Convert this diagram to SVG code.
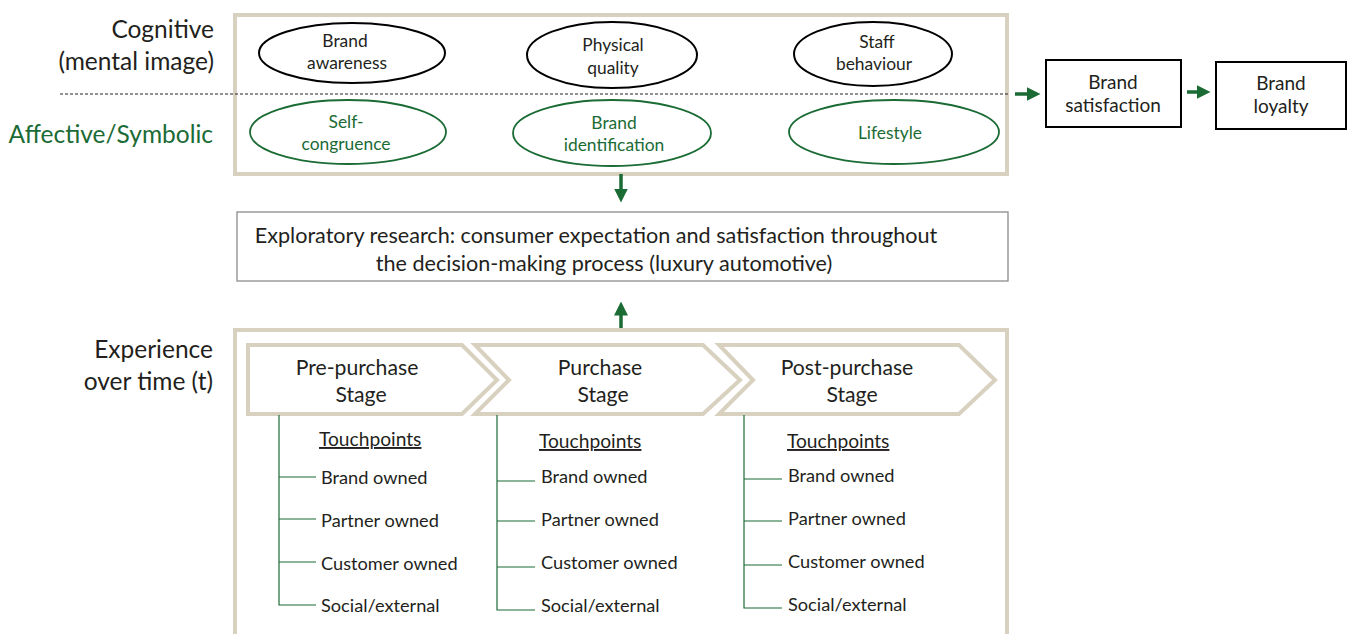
<svg xmlns="http://www.w3.org/2000/svg" width="1354" height="634" viewBox="0 0 1354 634">
<defs>
<style>
text{font-family:"Lato","Liberation Sans",sans-serif;fill:#231f20}
.g{fill:#1b6b35}
.frame{fill:none;stroke:#d9d1c0;stroke-width:4}
.ek{fill:#fff;stroke:#000;stroke-width:2}
.eg{fill:#fff;stroke:#1b6b35;stroke-width:1.8}
.et{font-size:17.4px;text-anchor:middle}
.lbl{font-size:24.5px;text-anchor:end}
.stage{fill:#fff;stroke:#d9d1c0;stroke-width:4}
.st{font-size:21.2px;text-anchor:middle}
.tp{font-size:19.2px;text-decoration:underline}
.it{font-size:18.2px}
.tl{fill:none;stroke:#1b6b35;stroke-width:1.2}
.arr{stroke:#1b6b35;stroke-width:3.5;fill:none}
.box{fill:#fff;stroke:#000;stroke-width:2}
.bt{font-size:19px;text-anchor:middle}
.rt{font-size:21.6px;text-anchor:middle}
</style>
<marker id="ah" markerWidth="4" markerHeight="4" refX="1" refY="2" orient="auto" markerUnits="strokeWidth">
<path d="M0,0 L4,2 L0,4 Z" fill="#1b6b35"/>
</marker>
</defs>

<g id="labels">
<text class="lbl" x="214" y="38">Cognitive</text>
<text class="lbl" x="214" y="70">(mental image)</text>
<text class="lbl g" x="213" y="143">Affective/Symbolic</text>
<text class="lbl" x="213" y="358">Experience</text>
<text class="lbl" x="213" y="390">over time (t)</text>
</g>

<g id="top-frame">
<rect class="frame" x="235" y="15" width="772" height="159"/>
</g>

<g id="connectors">
<line x1="60" y1="94" x2="1010" y2="94" stroke="#222" stroke-width="1" stroke-dasharray="3,2"/>
<line class="arr" x1="1015" y1="94" x2="1030" y2="94" marker-end="url(#ah)"/>
<line class="arr" x1="1187" y1="92" x2="1200" y2="92" marker-end="url(#ah)"/>
<line class="arr" x1="621" y1="174" x2="621" y2="192" marker-end="url(#ah)"/>
<line class="arr" x1="621" y1="330" x2="621" y2="312" marker-end="url(#ah)"/>
</g>

<g id="brand-awareness">
<ellipse class="ek" cx="352" cy="53" rx="93" ry="30"/>
<text class="et" x="345" y="47">Brand</text>
<text class="et" x="347" y="69">awareness</text>
</g>
<g id="physical-quality">
<ellipse class="ek" cx="612" cy="55" rx="85" ry="33"/>
<text class="et" x="613" y="51">Physical</text>
<text class="et" x="613" y="74">quality</text>
</g>
<g id="staff-behaviour">
<ellipse class="ek" cx="873" cy="54" rx="79" ry="32"/>
<text class="et" x="877" y="48">Staff</text>
<text class="et" x="874" y="70">behaviour</text>
</g>
<g id="self-congruence">
<ellipse class="eg" cx="348" cy="132" rx="98" ry="32"/>
<text class="et g" x="346" y="128">Self-</text>
<text class="et g" x="346" y="150">congruence</text>
</g>
<g id="brand-identification">
<ellipse class="eg" cx="612" cy="133" rx="99" ry="33"/>
<text class="et g" x="614" y="129">Brand</text>
<text class="et g" x="614" y="151">identification</text>
</g>
<g id="lifestyle">
<ellipse class="eg" cx="894" cy="132" rx="105" ry="32"/>
<text class="et g" x="890" y="139">Lifestyle</text>
</g>

<g id="brand-satisfaction">
<rect class="box" x="1046" y="60" width="135" height="67"/>
<text class="bt" x="1113" y="89">Brand</text>
<text class="bt" x="1113" y="112">satisfaction</text>
</g>
<g id="brand-loyalty">
<rect class="box" x="1216" y="62" width="130" height="67"/>
<text class="bt" x="1281" y="90">Brand</text>
<text class="bt" x="1281" y="113">loyalty</text>
</g>

<g id="research">
<rect x="237" y="212" width="771" height="69" fill="#fff" stroke="#8c8c8c" stroke-width="1.3"/>
<text class="rt" x="596" y="243">Exploratory research: consumer expectation and satisfaction throughout</text>
<text class="rt" x="604" y="271">the decision-making process (luxury automotive)</text>
</g>

<g id="bottom-frame">
<rect class="frame" x="235" y="330" width="772" height="320"/>
</g>

<g id="post-purchase">
<path class="stage" d="M719,345 L959,345 L995,380 L959,414 L719,414 L753,380 Z"/>
<text class="st" x="847" y="375">Post-purchase</text>
<text class="st" x="852" y="402">Stage</text>
</g>
<g id="purchase">
<path class="stage" d="M475,345 L703,345 L740,380 L703,414 L475,414 L509,380 Z"/>
<text class="st" x="600" y="375">Purchase</text>
<text class="st" x="603" y="402">Stage</text>
</g>
<g id="pre-purchase">
<path class="stage" d="M248,345 L462,345 L497,380 L462,414 L248,414 Z"/>
<text class="st" x="357" y="375">Pre-purchase</text>
<text class="st" x="361" y="402">Stage</text>
</g>

<g id="touchpoints-pre">
<path class="tl" d="M279,415 V605 H316 M279,477 H316 M279,519 H316 M279,562 H316"/>
<text class="tp" x="319" y="446">Touchpoints</text>
<text class="it" x="321" y="484">Brand owned</text>
<text class="it" x="321" y="527">Partner owned</text>
<text class="it" x="321" y="570">Customer owned</text>
<text class="it" x="321" y="612">Social/external</text>
</g>
<g id="touchpoints-purchase">
<path class="tl" d="M497,415 V610 H535 M497,481 H535 M497,521 H535 M497,567 H535"/>
<text class="tp" x="539" y="448">Touchpoints</text>
<text class="it" x="541" y="483">Brand owned</text>
<text class="it" x="541" y="526">Partner owned</text>
<text class="it" x="541" y="569">Customer owned</text>
<text class="it" x="541" y="612">Social/external</text>
</g>
<g id="touchpoints-post">
<path class="tl" d="M744,415 V608 H782 M744,479 H782 M744,521 H782 M744,565 H782"/>
<text class="tp" x="787" y="448">Touchpoints</text>
<text class="it" x="788" y="482">Brand owned</text>
<text class="it" x="788" y="525">Partner owned</text>
<text class="it" x="788" y="568">Customer owned</text>
<text class="it" x="788" y="611">Social/external</text>
</g>
</svg>
